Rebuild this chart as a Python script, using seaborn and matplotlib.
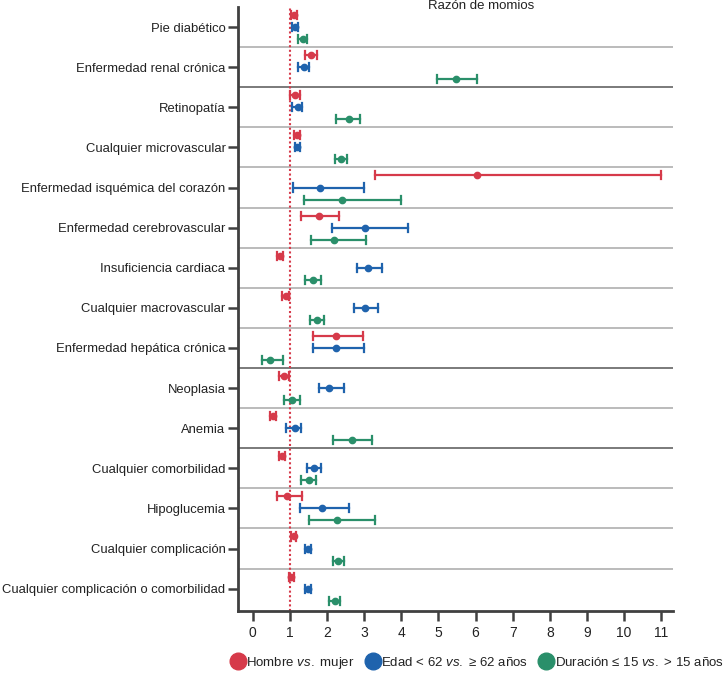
import matplotlib
matplotlib.use("Agg")
import matplotlib.pyplot as plt
from matplotlib.lines import Line2D
import seaborn as sns
import pandas as pd

categories = [
    "Pie diabético", "Enfermedad renal crónica", "Retinopatía",
    "Cualquier microvascular", "Enfermedad isquémica del corazón",
    "Enfermedad cerebrovascular", "Insuficiencia cardiaca",
    "Cualquier macrovascular", "Enfermedad hepática crónica", "Neoplasia",
    "Anemia", "Cualquier comorbilidad", "Hipoglucemia",
    "Cualquier complicación", "Cualquier complicación o comorbilidad",
]
groups = ["Hombre $\\mathit{vs.}$ mujer",
          "Edad < 62 $\\mathit{vs.}$ ≥ 62 años",
          "Duración ≤ 15 $\\mathit{vs.}$ > 15 años"]

# odds ratio, lower CI, upper CI per group
sex_or = [1.10, 1.56, 1.14, 1.18, 6.04, 1.77, 0.74, 0.89, 2.23, 0.84, 0.53, 0.79, 0.93, 1.10, 1.04]
sex_lo = [1.02, 1.40, 1.01, 1.10, 3.29, 1.31, 0.65, 0.79, 1.63, 0.70, 0.45, 0.70, 0.64, 1.02, 0.98]
sex_hi = [1.18, 1.72, 1.26, 1.27, 11.0, 2.32, 0.81, 0.98, 2.98, 0.97, 0.62, 0.87, 1.32, 1.17, 1.12]

age_or = [1.14, 1.38, 1.21, 1.20, 1.81, 3.03, 3.10, 3.03, 2.24, 2.06, 1.13, 1.64, 1.87, 1.48, 1.48]
age_lo = [1.05, 1.23, 1.06, 1.14, 1.08, 2.13, 2.80, 2.73, 1.61, 1.77, 0.90, 1.45, 1.27, 1.40, 1.40]
age_hi = [1.23, 1.51, 1.33, 1.28, 3.00, 4.19, 3.47, 3.36, 3.00, 2.46, 1.30, 1.84, 2.59, 1.57, 1.57]

dur_or = [1.35, 5.48, 2.58, 2.38, 2.41, 2.19, 1.61, 1.72, 0.47, 1.05, 2.67, 1.52, 2.28, 2.29, 2.20]
dur_lo = [1.23, 4.97, 2.23, 2.22, 1.38, 1.57, 1.40, 1.53, 0.26, 0.83, 2.15, 1.31, 1.52, 2.15, 2.06]
dur_hi = [1.45, 6.03, 2.89, 2.54, 3.99, 3.04, 1.84, 1.92, 0.81, 1.27, 3.20, 1.71, 3.29, 2.46, 2.35]

x_ticks = list(range(0, 12))
colors = ["#d63a4a", "#1f63ad", "#2a8f6a"]

rows = []
for g, (o, lo, hi) in zip(groups, [(sex_or, sex_lo, sex_hi),
                                   (age_or, age_lo, age_hi),
                                   (dur_or, dur_lo, dur_hi)]):
    for c, a, b, d in zip(categories, lo, o, hi):
        for v in (a, b, d):
            rows.append({"cat": c, "grupo": g, "valor": v})
df = pd.DataFrame(rows)

plt.rcParams["font.family"] = ["Liberation Sans", "DejaVu Sans"]
plt.rcParams["mathtext.fontset"] = "custom"
plt.rcParams["mathtext.rm"] = "Liberation Sans"
plt.rcParams["mathtext.it"] = "Liberation Sans:italic"

fig = plt.figure(figsize=(7.25, 6.73), dpi=100)
ax = fig.add_axes([238 / 725, 1 - 610.7 / 673, (673 - 238) / 725, (610.7 - 7) / 673])

# separator lines
for k in range(len(categories) - 1):
    dark = k in (1, 8, 10)
    ax.axhline(k + 0.5, color="#6f6f6f" if dark else "#a8a8a8",
               lw=1.3 if dark else 1.1, zorder=0)

ax.axvline(1, color="#d63a4a", ls=(0, (1, 1.2)), lw=1.5, zorder=1)

sns.pointplot(data=df, x="valor", y="cat", hue="grupo", order=categories,
              hue_order=groups, palette=colors, estimator="median",
              errorbar=("pi", 100), dodge=0.6, capsize=0.2,
              linestyle="none", markers="o", markersize=3.5,
              err_kws={"linewidth": 1.6}, legend=False, ax=ax, zorder=3)

ax.set_xlim(-0.4, 11.32)
ax.set_ylim(14.55, -0.5)
ax.set_xticks(x_ticks)
ax.set_xlabel("")
ax.set_ylabel("")
for s in ("top", "right"):
    ax.spines[s].set_visible(False)
for s in ("left", "bottom"):
    ax.spines[s].set_color("#404040")
    ax.spines[s].set_linewidth(2)
ax.tick_params(axis="both", direction="out", length=7, width=1.8,
               color="#404040", labelsize=9.4, labelcolor="#222222")
ax.tick_params(axis="y", pad=2)
ax.tick_params(axis="x", pad=4, labelsize=10)

fig.text(481 / 725, 1 - 6 / 673, "Razón de momios", ha="center", va="center",
         fontsize=9.5, color="#222222")

handles = [Line2D([], [], marker="o", ls="none", color=c, markersize=12)
           for c in colors]
fig.legend(handles, groups, loc="center", bbox_to_anchor=(477 / 725, 1 - 663 / 673),
           ncol=3, frameon=False, fontsize=9.5, handletextpad=0.1,
           columnspacing=0.8, handlelength=1.1, labelcolor="#222222",
           borderaxespad=0, borderpad=0)

fig.savefig("out.png", dpi=100)
